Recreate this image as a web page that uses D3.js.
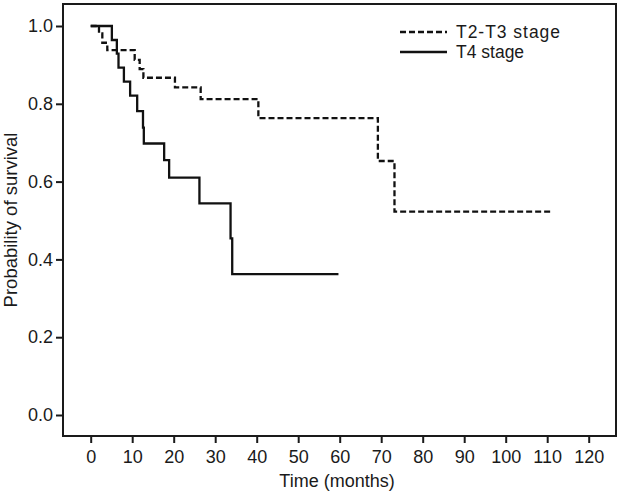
<!DOCTYPE html>
<html>
<head>
<meta charset="utf-8">
<script src="https://cdn.jsdelivr.net/npm/d3@7"></script>
<style>
  html, body { margin: 0; padding: 0; background: #fff; }
  svg { display: block; }
  text { font-family: "Liberation Sans", Arial, Helvetica, sans-serif; fill: #1a1a1a; }
</style>
</head>
<body>
<svg id="chart" width="622" height="496"></svg>
<script>
// ---- data ----
const seriesNames = ["T2-T3 stage", "T4 stage"];

const t23Times = [0, 2.0, 2.8, 4.0, 10.6, 11.8, 12.7, 20.3, 26.5, 40.4, 69.2, 73.2];
const t23Surv  = [1.0, 0.981, 0.957, 0.938, 0.913, 0.889, 0.867, 0.842, 0.812, 0.763, 0.653, 0.523];
const t23End   = 111.2;

const t4Times = [0, 5.1, 6.3, 6.7, 8.0, 9.5, 11.2, 12.6, 12.8, 17.7, 18.9, 26.2, 33.7, 34.1];
const t4Surv  = [1.0, 0.964, 0.929, 0.893, 0.857, 0.821, 0.781, 0.739, 0.698, 0.655, 0.610, 0.544, 0.454, 0.362];
const t4End   = 59.7;

const xTicks = [0, 10, 20, 30, 40, 50, 60, 70, 80, 90, 100, 110, 120];
const yTicks = [0.0, 0.2, 0.4, 0.6, 0.8, 1.0];

const xTitle = "Time (months)";
const yTitle = "Probability of survival";

// ---- layout ----
const svg = d3.select("#chart");
const box = { left: 63, right: 616, top: 4, bottom: 436 };
const x = d3.scaleLinear().domain([0, 120]).range([90.7, 588.7]);
const y = d3.scaleLinear().domain([0, 1]).range([415, 26]);
const FS = 18;
const ink = "#1a1a1a";

// plot frame
svg.append("rect")
  .attr("x", box.left).attr("y", box.top)
  .attr("width", box.right - box.left).attr("height", box.bottom - box.top)
  .attr("fill", "none").attr("stroke", ink).attr("stroke-width", 2);

// axes
const xAxis = svg.append("g")
  .attr("transform", `translate(0,${box.bottom})`)
  .call(d3.axisBottom(x).tickValues(xTicks).tickFormat(d3.format("d")).tickSize(7).tickPadding(7).tickSizeOuter(0));
const yAxis = svg.append("g")
  .attr("transform", `translate(${box.left},0)`)
  .call(d3.axisLeft(y).tickValues(yTicks).tickFormat(d3.format(".1f")).tickSize(7).tickPadding(3).tickSizeOuter(0));

[xAxis, yAxis].forEach(g => {
  g.select(".domain").remove();
  g.selectAll(".tick line").attr("stroke", ink).attr("stroke-width", 2);
  g.selectAll(".tick text")
    .attr("font-size", FS)
    .attr("font-family", "Liberation Sans, Arial, sans-serif")
    .attr("fill", ink);
});

// axis titles
svg.append("text")
  .attr("x", 337).attr("y", 487)
  .attr("text-anchor", "middle")
  .attr("font-size", FS)
  .text(xTitle);
svg.append("text")
  .attr("transform", `translate(17,220) rotate(-90)`)
  .attr("text-anchor", "middle")
  .attr("font-size", 18.5)
  .text(yTitle);

// curves
const line = d3.line()
  .x(d => x(d[0]))
  .y(d => y(d[1]))
  .curve(d3.curveStepAfter);

function pts(times, surv, end) {
  const p = times.map((t, i) => [t, surv[i]]);
  p.push([end, surv[surv.length - 1]]);
  return p;
}

const series = [
  { name: seriesNames[0], data: pts(t23Times, t23Surv, t23End), dash: "6,3" },
  { name: seriesNames[1], data: pts(t4Times, t4Surv, t4End), dash: null }
];

svg.append("g").selectAll("path")
  .data(series)
  .join("path")
  .attr("d", d => line(d.data))
  .attr("fill", "none")
  .attr("stroke", "#111")
  .attr("stroke-width", 2.3)
  .attr("stroke-dasharray", d => d.dash);

// legend
const legend = svg.append("g");
series.forEach((s, i) => {
  const ly = 32 + i * 20;
  legend.append("line")
    .attr("x1", 400).attr("x2", 447)
    .attr("y1", ly).attr("y2", ly)
    .attr("stroke", "#111").attr("stroke-width", 2.3)
    .attr("stroke-dasharray", s.dash);
  legend.append("text")
    .attr("x", 456).attr("y", ly)
    .attr("dy", "0.35em")
    .attr("font-size", 17.5)
    .attr("textLength", s.name.length > 9 ? 104 : null)
    .text(s.name);
});
</script>
</body>
</html>
